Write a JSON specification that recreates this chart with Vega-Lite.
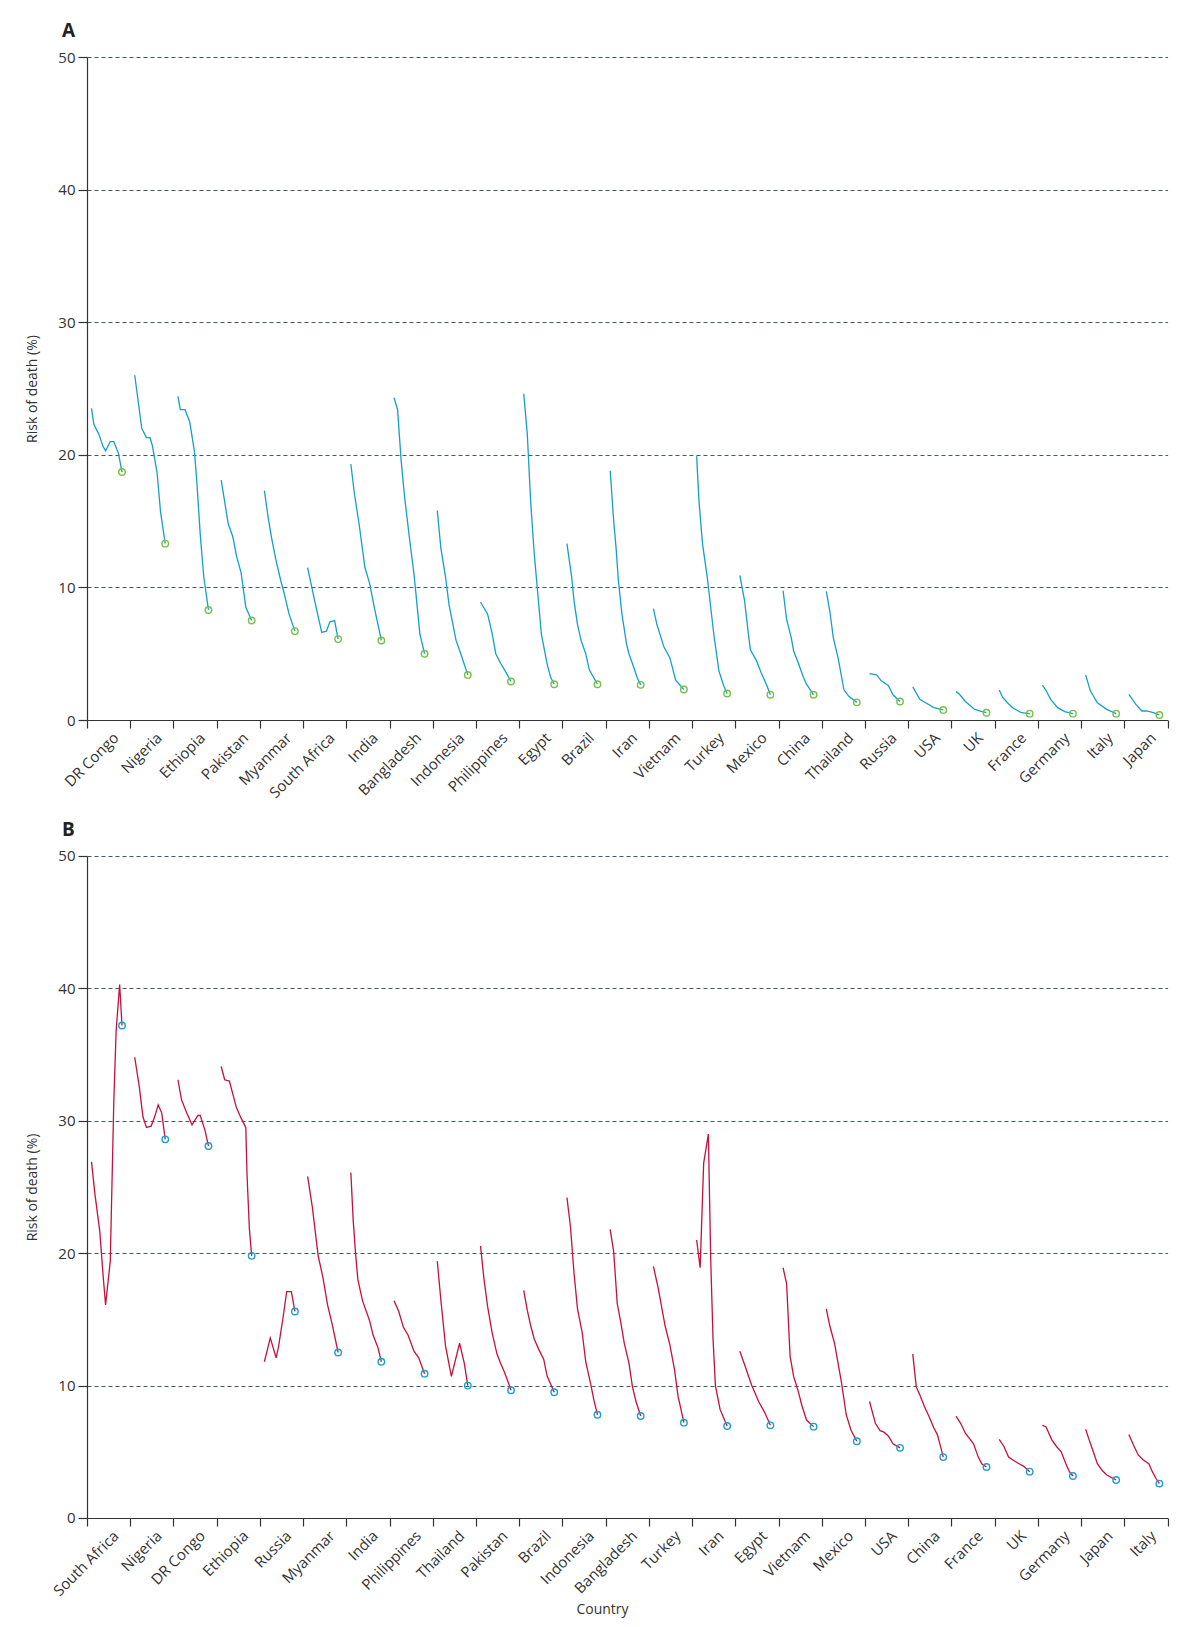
{
"$schema": "https://vega.github.io/schema/vega-lite/v6.json",
"padding": {"left": 25, "top": 22, "right": 10, "bottom": 4},
"background": "white",
"spacing": 20,
"config": {
  "font": "Open Sans",
  "view": {"stroke": null},
  "axis": {"domainColor": "#333", "tickColor": "#333", "labelColor": "#333", "titleColor": "#333", "titleFontWeight": "normal", "domainWidth": 1.2, "tickWidth": 1.2}
},
"datasets": {
"A": [
{"c":"DR Congo","year":1990,"v":23.5},{"c":"DR Congo","year":1992,"v":22.3},{"c":"DR Congo","year":1996,"v":21.6},{"c":"DR Congo","year":2000,"v":20.6},{"c":"DR Congo","year":2002,"v":20.3},{"c":"DR Congo","year":2006,"v":21.0},{"c":"DR Congo","year":2009,"v":21.0},{"c":"DR Congo","year":2013,"v":20.1},{"c":"DR Congo","year":2016,"v":18.7},
{"c":"Nigeria","year":1990,"v":26.0},{"c":"Nigeria","year":1996,"v":22.0},{"c":"Nigeria","year":2000,"v":21.3},{"c":"Nigeria","year":2003,"v":21.3},{"c":"Nigeria","year":2005,"v":20.7},{"c":"Nigeria","year":2009,"v":18.7},{"c":"Nigeria","year":2012,"v":15.7},{"c":"Nigeria","year":2016,"v":13.3},
{"c":"Ethiopia","year":1990,"v":24.4},{"c":"Ethiopia","year":1992,"v":23.4},{"c":"Ethiopia","year":1996,"v":23.4},{"c":"Ethiopia","year":2000,"v":22.5},{"c":"Ethiopia","year":2004,"v":20.3},{"c":"Ethiopia","year":2006,"v":18.1},{"c":"Ethiopia","year":2009,"v":14.0},{"c":"Ethiopia","year":2012,"v":10.8},{"c":"Ethiopia","year":2016,"v":8.3},
{"c":"Pakistan","year":1990,"v":18.1},{"c":"Pakistan","year":1996,"v":14.8},{"c":"Pakistan","year":2000,"v":13.8},{"c":"Pakistan","year":2003,"v":12.4},{"c":"Pakistan","year":2007,"v":11.1},{"c":"Pakistan","year":2011,"v":8.5},{"c":"Pakistan","year":2016,"v":7.5},
{"c":"Myanmar","year":1990,"v":17.3},{"c":"Myanmar","year":1993,"v":15.4},{"c":"Myanmar","year":1996,"v":13.8},{"c":"Myanmar","year":2000,"v":12.0},{"c":"Myanmar","year":2004,"v":10.5},{"c":"Myanmar","year":2007,"v":9.5},{"c":"Myanmar","year":2011,"v":8.0},{"c":"Myanmar","year":2016,"v":6.7},
{"c":"South Africa","year":1990,"v":11.5},{"c":"South Africa","year":1996,"v":9.0},{"c":"South Africa","year":2002,"v":6.6},{"c":"South Africa","year":2006,"v":6.7},{"c":"South Africa","year":2009,"v":7.4},{"c":"South Africa","year":2013,"v":7.5},{"c":"South Africa","year":2016,"v":6.1},
{"c":"India","year":1990,"v":19.3},{"c":"India","year":1993,"v":17.1},{"c":"India","year":1997,"v":14.8},{"c":"India","year":2002,"v":11.5},{"c":"India","year":2006,"v":10.3},{"c":"India","year":2010,"v":8.5},{"c":"India","year":2016,"v":6.0},
{"c":"Bangladesh","year":1990,"v":24.3},{"c":"Bangladesh","year":1993,"v":23.4},{"c":"Bangladesh","year":1996,"v":19.6},{"c":"Bangladesh","year":1999,"v":16.8},{"c":"Bangladesh","year":2003,"v":13.8},{"c":"Bangladesh","year":2007,"v":11.0},{"c":"Bangladesh","year":2012,"v":6.5},{"c":"Bangladesh","year":2016,"v":5.0},
{"c":"Indonesia","year":1990,"v":15.8},{"c":"Indonesia","year":1993,"v":13.0},{"c":"Indonesia","year":1997,"v":10.8},{"c":"Indonesia","year":2000,"v":8.7},{"c":"Indonesia","year":2006,"v":6.0},{"c":"Indonesia","year":2010,"v":5.0},{"c":"Indonesia","year":2016,"v":3.4},
{"c":"Philippines","year":1990,"v":8.9},{"c":"Philippines","year":1996,"v":8.0},{"c":"Philippines","year":2000,"v":6.5},{"c":"Philippines","year":2003,"v":5.0},{"c":"Philippines","year":2007,"v":4.3},{"c":"Philippines","year":2011,"v":3.7},{"c":"Philippines","year":2016,"v":2.9},
{"c":"Egypt","year":1990,"v":24.6},{"c":"Egypt","year":1993,"v":21.6},{"c":"Egypt","year":1996,"v":16.3},{"c":"Egypt","year":1999,"v":12.5},{"c":"Egypt","year":2002,"v":9.5},{"c":"Egypt","year":2005,"v":6.5},{"c":"Egypt","year":2010,"v":4.2},{"c":"Egypt","year":2013,"v":3.2},{"c":"Egypt","year":2016,"v":2.7},
{"c":"Brazil","year":1990,"v":13.3},{"c":"Brazil","year":1994,"v":10.8},{"c":"Brazil","year":1996,"v":9.0},{"c":"Brazil","year":1999,"v":7.2},{"c":"Brazil","year":2002,"v":6.0},{"c":"Brazil","year":2006,"v":5.0},{"c":"Brazil","year":2009,"v":3.8},{"c":"Brazil","year":2016,"v":2.7},
{"c":"Iran","year":1990,"v":18.8},{"c":"Iran","year":1993,"v":15.0},{"c":"Iran","year":1995,"v":13.0},{"c":"Iran","year":1997,"v":10.5},{"c":"Iran","year":2000,"v":8.0},{"c":"Iran","year":2004,"v":5.7},{"c":"Iran","year":2006,"v":5.0},{"c":"Iran","year":2010,"v":4.0},{"c":"Iran","year":2013,"v":3.2},{"c":"Iran","year":2016,"v":2.65},
{"c":"Vietnam","year":1990,"v":8.4},{"c":"Vietnam","year":1993,"v":7.2},{"c":"Vietnam","year":1999,"v":5.5},{"c":"Vietnam","year":2004,"v":4.7},{"c":"Vietnam","year":2009,"v":3.0},{"c":"Vietnam","year":2013,"v":2.6},{"c":"Vietnam","year":2016,"v":2.3},
{"c":"Turkey","year":1990,"v":19.9},{"c":"Turkey","year":1992,"v":16.5},{"c":"Turkey","year":1995,"v":13.3},{"c":"Turkey","year":1999,"v":10.8},{"c":"Turkey","year":2002,"v":8.5},{"c":"Turkey","year":2005,"v":6.2},{"c":"Turkey","year":2009,"v":3.7},{"c":"Turkey","year":2013,"v":2.6},{"c":"Turkey","year":2016,"v":2.0},
{"c":"Mexico","year":1990,"v":10.9},{"c":"Mexico","year":1994,"v":9.0},{"c":"Mexico","year":1997,"v":6.7},{"c":"Mexico","year":1999,"v":5.3},{"c":"Mexico","year":2004,"v":4.5},{"c":"Mexico","year":2008,"v":3.6},{"c":"Mexico","year":2013,"v":2.6},{"c":"Mexico","year":2016,"v":1.9},
{"c":"China","year":1990,"v":9.75},{"c":"China","year":1993,"v":7.6},{"c":"China","year":1997,"v":6.2},{"c":"China","year":1999,"v":5.2},{"c":"China","year":2003,"v":4.3},{"c":"China","year":2007,"v":3.3},{"c":"China","year":2010,"v":2.7},{"c":"China","year":2016,"v":1.9},
{"c":"Thailand","year":1990,"v":9.7},{"c":"Thailand","year":1993,"v":8.2},{"c":"Thailand","year":1996,"v":6.2},{"c":"Thailand","year":2000,"v":4.7},{"c":"Thailand","year":2005,"v":2.3},{"c":"Thailand","year":2009,"v":1.8},{"c":"Thailand","year":2016,"v":1.33},
{"c":"Russia","year":1990,"v":3.5},{"c":"Russia","year":1996,"v":3.4},{"c":"Russia","year":2000,"v":2.95},{"c":"Russia","year":2006,"v":2.6},{"c":"Russia","year":2010,"v":1.9},{"c":"Russia","year":2016,"v":1.4},
{"c":"USA","year":1990,"v":2.5},{"c":"USA","year":1996,"v":1.56},{"c":"USA","year":2001,"v":1.3},{"c":"USA","year":2008,"v":0.93},{"c":"USA","year":2016,"v":0.76},
{"c":"UK","year":1990,"v":2.14},{"c":"UK","year":1993,"v":1.94},{"c":"UK","year":1998,"v":1.4},{"c":"UK","year":2006,"v":0.8},{"c":"UK","year":2010,"v":0.68},{"c":"UK","year":2016,"v":0.55},
{"c":"France","year":1990,"v":2.27},{"c":"France","year":1993,"v":1.7},{"c":"France","year":1997,"v":1.3},{"c":"France","year":2002,"v":0.88},{"c":"France","year":2009,"v":0.55},{"c":"France","year":2016,"v":0.48},
{"c":"Germany","year":1990,"v":2.64},{"c":"Germany","year":1993,"v":2.24},{"c":"Germany","year":1997,"v":1.56},{"c":"Germany","year":2003,"v":0.93},{"c":"Germany","year":2009,"v":0.63},{"c":"Germany","year":2016,"v":0.48},
{"c":"Italy","year":1990,"v":3.4},{"c":"Italy","year":1994,"v":2.2},{"c":"Italy","year":2000,"v":1.3},{"c":"Italy","year":2008,"v":0.8},{"c":"Italy","year":2016,"v":0.48},
{"c":"Japan","year":1990,"v":1.94},{"c":"Japan","year":1996,"v":1.18},{"c":"Japan","year":2001,"v":0.68},{"c":"Japan","year":2005,"v":0.68},{"c":"Japan","year":2011,"v":0.55},{"c":"Japan","year":2016,"v":0.38}
],
"B": [
{"c":"South Africa","year":1990,"v":26.9},{"c":"South Africa","year":1993,"v":24.4},{"c":"South Africa","year":1997,"v":21.7},{"c":"South Africa","year":2000,"v":18.2},{"c":"South Africa","year":2002,"v":16.1},{"c":"South Africa","year":2006,"v":19.4},{"c":"South Africa","year":2009,"v":31.4},{"c":"South Africa","year":2011,"v":36.8},{"c":"South Africa","year":2014,"v":40.3},{"c":"South Africa","year":2016,"v":37.2},
{"c":"Nigeria","year":1990,"v":34.8},{"c":"Nigeria","year":1994,"v":32.5},{"c":"Nigeria","year":1997,"v":30.3},{"c":"Nigeria","year":2000,"v":29.5},{"c":"Nigeria","year":2004,"v":29.6},{"c":"Nigeria","year":2007,"v":30.3},{"c":"Nigeria","year":2010,"v":31.2},{"c":"Nigeria","year":2013,"v":30.6},{"c":"Nigeria","year":2016,"v":28.6},
{"c":"DR Congo","year":1990,"v":33.1},{"c":"DR Congo","year":1993,"v":31.6},{"c":"DR Congo","year":1997,"v":30.7},{"c":"DR Congo","year":2002,"v":29.7},{"c":"DR Congo","year":2007,"v":30.4},{"c":"DR Congo","year":2009,"v":30.4},{"c":"DR Congo","year":2013,"v":29.3},{"c":"DR Congo","year":2016,"v":28.1},
{"c":"Ethiopia","year":1990,"v":34.1},{"c":"Ethiopia","year":1993,"v":33.1},{"c":"Ethiopia","year":1997,"v":33.0},{"c":"Ethiopia","year":2000,"v":32.0},{"c":"Ethiopia","year":2003,"v":31.0},{"c":"Ethiopia","year":2007,"v":30.2},{"c":"Ethiopia","year":2011,"v":29.5},{"c":"Ethiopia","year":2012,"v":26.0},{"c":"Ethiopia","year":2014,"v":21.9},{"c":"Ethiopia","year":2016,"v":19.8},
{"c":"Russia","year":1990,"v":11.8},{"c":"Russia","year":1995,"v":13.6},{"c":"Russia","year":2000,"v":12.1},{"c":"Russia","year":2002,"v":12.9},{"c":"Russia","year":2006,"v":15.2},{"c":"Russia","year":2009,"v":17.1},{"c":"Russia","year":2013,"v":17.1},{"c":"Russia","year":2016,"v":15.6},
{"c":"Myanmar","year":1990,"v":25.8},{"c":"Myanmar","year":1994,"v":23.5},{"c":"Myanmar","year":1999,"v":19.8},{"c":"Myanmar","year":2003,"v":18.2},{"c":"Myanmar","year":2007,"v":16.1},{"c":"Myanmar","year":2011,"v":14.6},{"c":"Myanmar","year":2016,"v":12.5},
{"c":"India","year":1990,"v":26.1},{"c":"India","year":1992,"v":22.5},{"c":"India","year":1994,"v":20.0},{"c":"India","year":1996,"v":18.0},{"c":"India","year":2000,"v":16.4},{"c":"India","year":2006,"v":14.9},{"c":"India","year":2009,"v":13.8},{"c":"India","year":2013,"v":12.9},{"c":"India","year":2016,"v":11.8},
{"c":"Philippines","year":1990,"v":16.4},{"c":"Philippines","year":1994,"v":15.6},{"c":"Philippines","year":1998,"v":14.4},{"c":"Philippines","year":2002,"v":13.8},{"c":"Philippines","year":2007,"v":12.6},{"c":"Philippines","year":2011,"v":12.1},{"c":"Philippines","year":2016,"v":10.9},
{"c":"Thailand","year":1990,"v":19.4},{"c":"Thailand","year":1993,"v":16.5},{"c":"Thailand","year":1997,"v":13.0},{"c":"Thailand","year":2002,"v":10.7},{"c":"Thailand","year":2009,"v":13.2},{"c":"Thailand","year":2013,"v":11.7},{"c":"Thailand","year":2016,"v":10.0},
{"c":"Pakistan","year":1990,"v":20.55},{"c":"Pakistan","year":1993,"v":18.0},{"c":"Pakistan","year":1996,"v":16.0},{"c":"Pakistan","year":2000,"v":13.95},{"c":"Pakistan","year":2004,"v":12.4},{"c":"Pakistan","year":2007,"v":11.7},{"c":"Pakistan","year":2010,"v":11.1},{"c":"Pakistan","year":2013,"v":10.4},{"c":"Pakistan","year":2016,"v":9.65},
{"c":"Brazil","year":1990,"v":17.2},{"c":"Brazil","year":1993,"v":15.7},{"c":"Brazil","year":1996,"v":14.5},{"c":"Brazil","year":1999,"v":13.5},{"c":"Brazil","year":2003,"v":12.7},{"c":"Brazil","year":2007,"v":12.0},{"c":"Brazil","year":2010,"v":10.7},{"c":"Brazil","year":2016,"v":9.5},
{"c":"Indonesia","year":1990,"v":24.2},{"c":"Indonesia","year":1993,"v":22.0},{"c":"Indonesia","year":1996,"v":18.5},{"c":"Indonesia","year":1999,"v":15.8},{"c":"Indonesia","year":2003,"v":14.0},{"c":"Indonesia","year":2006,"v":11.8},{"c":"Indonesia","year":2010,"v":10.2},{"c":"Indonesia","year":2013,"v":8.9},{"c":"Indonesia","year":2016,"v":7.8},
{"c":"Bangladesh","year":1990,"v":21.8},{"c":"Bangladesh","year":1993,"v":20.1},{"c":"Bangladesh","year":1996,"v":16.2},{"c":"Bangladesh","year":1999,"v":14.8},{"c":"Bangladesh","year":2002,"v":13.2},{"c":"Bangladesh","year":2006,"v":11.7},{"c":"Bangladesh","year":2009,"v":9.9},{"c":"Bangladesh","year":2012,"v":8.8},{"c":"Bangladesh","year":2016,"v":7.7},
{"c":"Turkey","year":1990,"v":19.0},{"c":"Turkey","year":1994,"v":17.4},{"c":"Turkey","year":2000,"v":14.5},{"c":"Turkey","year":2004,"v":13.1},{"c":"Turkey","year":2008,"v":11.2},{"c":"Turkey","year":2011,"v":9.2},{"c":"Turkey","year":2016,"v":7.2},
{"c":"Iran","year":1990,"v":21.0},{"c":"Iran","year":1993,"v":18.9},{"c":"Iran","year":1996,"v":26.8},{"c":"Iran","year":2000,"v":29.0},{"c":"Iran","year":2002,"v":19.5},{"c":"Iran","year":2004,"v":13.5},{"c":"Iran","year":2006,"v":10.0},{"c":"Iran","year":2010,"v":8.2},{"c":"Iran","year":2016,"v":6.95},
{"c":"Egypt","year":1990,"v":12.6},{"c":"Egypt","year":1994,"v":11.6},{"c":"Egypt","year":2000,"v":10.05},{"c":"Egypt","year":2006,"v":8.8},{"c":"Egypt","year":2011,"v":8.0},{"c":"Egypt","year":2016,"v":7.0},
{"c":"Vietnam","year":1990,"v":18.9},{"c":"Vietnam","year":1993,"v":17.7},{"c":"Vietnam","year":1996,"v":12.2},{"c":"Vietnam","year":1999,"v":10.7},{"c":"Vietnam","year":2003,"v":9.55},{"c":"Vietnam","year":2006,"v":8.5},{"c":"Vietnam","year":2010,"v":7.4},{"c":"Vietnam","year":2016,"v":6.9},
{"c":"Mexico","year":1990,"v":15.8},{"c":"Mexico","year":1993,"v":14.5},{"c":"Mexico","year":1997,"v":13.2},{"c":"Mexico","year":2000,"v":11.7},{"c":"Mexico","year":2003,"v":10.2},{"c":"Mexico","year":2007,"v":7.8},{"c":"Mexico","year":2011,"v":6.65},{"c":"Mexico","year":2016,"v":5.8},
{"c":"USA","year":1990,"v":8.8},{"c":"USA","year":1995,"v":7.15},{"c":"USA","year":1999,"v":6.6},{"c":"USA","year":2002,"v":6.5},{"c":"USA","year":2006,"v":6.2},{"c":"USA","year":2010,"v":5.6},{"c":"USA","year":2016,"v":5.3},
{"c":"China","year":1990,"v":12.4},{"c":"China","year":1993,"v":9.9},{"c":"China","year":1996,"v":9.3},{"c":"China","year":2000,"v":8.4},{"c":"China","year":2004,"v":7.65},{"c":"China","year":2008,"v":6.8},{"c":"China","year":2011,"v":6.3},{"c":"China","year":2014,"v":5.3},{"c":"China","year":2016,"v":4.6},
{"c":"France","year":1990,"v":7.7},{"c":"France","year":1994,"v":7.15},{"c":"France","year":1998,"v":6.4},{"c":"France","year":2005,"v":5.6},{"c":"France","year":2009,"v":4.6},{"c":"France","year":2012,"v":4.1},{"c":"France","year":2016,"v":3.85},
{"c":"UK","year":1990,"v":5.94},{"c":"UK","year":1994,"v":5.4},{"c":"UK","year":1998,"v":4.6},{"c":"UK","year":2003,"v":4.3},{"c":"UK","year":2007,"v":4.1},{"c":"UK","year":2011,"v":3.9},{"c":"UK","year":2016,"v":3.5},
{"c":"Germany","year":1990,"v":7.0},{"c":"Germany","year":1993,"v":6.9},{"c":"Germany","year":1998,"v":5.9},{"c":"Germany","year":2002,"v":5.4},{"c":"Germany","year":2006,"v":5.0},{"c":"Germany","year":2010,"v":4.1},{"c":"Germany","year":2013,"v":3.5},{"c":"Germany","year":2016,"v":3.17},
{"c":"Japan","year":1990,"v":6.7},{"c":"Japan","year":1993,"v":5.9},{"c":"Japan","year":1996,"v":5.14},{"c":"Japan","year":2000,"v":4.1},{"c":"Japan","year":2004,"v":3.6},{"c":"Japan","year":2008,"v":3.25},{"c":"Japan","year":2016,"v":2.87},
{"c":"Italy","year":1990,"v":6.3},{"c":"Italy","year":1994,"v":5.5},{"c":"Italy","year":1998,"v":4.76},{"c":"Italy","year":2002,"v":4.4},{"c":"Italy","year":2007,"v":4.1},{"c":"Italy","year":2010,"v":3.5},{"c":"Italy","year":2013,"v":3.0},{"c":"Italy","year":2016,"v":2.6}
]
},
"vconcat": [
{
  "width": 1080.6, "height": 663,
  "title": {"text": "A", "anchor": "start", "frame": "group", "dx": -25, "offset": 9, "fontSize": 19, "fontWeight": "bold", "color": "#222"},
  "data": {"name": "A"},
  "encoding": {
    "x": {"field": "c", "type": "nominal", "title": null,
      "scale": {"domain": ["DR Congo","Nigeria","Ethiopia","Pakistan","Myanmar","South Africa","India","Bangladesh","Indonesia","Philippines","Egypt","Brazil","Iran","Vietnam","Turkey","Mexico","China","Thailand","Russia","USA","UK","France","Germany","Italy","Japan"], "paddingInner": 0, "paddingOuter": 0},
      "axis": {"tickBand": "extent", "labelAngle": -45, "labelAlign": "right", "labelBaseline": "top", "labelFontSize": 15, "labelPadding": 2, "labelOffset": 2, "tickSize": 8, "grid": false, "labelOverlap": false, "labelBound": false}},
    "xOffset": {"field": "year", "type": "quantitative", "scale": {"domain": [1990, 2016], "range": [4.5, 35]}},
    "y": {"field": "v", "type": "quantitative", "title": "Risk of death (%)", "scale": {"domain": [0, 50]},
      "axis": {"values": [0,10,20,30,40,50], "grid": true, "gridDash": [4,3], "gridColor": "#3d5966", "gridWidth": 1, "gridOpacity": {"condition": {"test": "datum.value === 0", "value": 0}, "value": 1}, "tickSize": 9, "labelPadding": 3, "labelFontSize": 15, "titleFontSize": 14, "titlePadding": 18}}
  },
  "layer": [
    {"mark": {"type": "line", "color": "#169fc7", "strokeWidth": 1.3}, "encoding": {"detail": {"field": "c"}, "order": {"field": "year"}}},
    {"transform": [{"filter": "datum.year == 2016"}], "mark": {"type": "point", "filled": false, "color": "#78c043", "size": 42, "strokeWidth": 1.4, "opacity": 1}}
  ]
},
{
  "width": 1080.6, "height": 662,
  "title": {"text": "B", "anchor": "start", "frame": "group", "dx": -25, "offset": 9, "fontSize": 19, "fontWeight": "bold", "color": "#222"},
  "data": {"name": "B"},
  "encoding": {
    "x": {"field": "c", "type": "nominal", "title": "Country",
      "scale": {"domain": ["South Africa","Nigeria","DR Congo","Ethiopia","Russia","Myanmar","India","Philippines","Thailand","Pakistan","Brazil","Indonesia","Bangladesh","Turkey","Iran","Egypt","Vietnam","Mexico","USA","China","France","UK","Germany","Japan","Italy"], "paddingInner": 0, "paddingOuter": 0},
      "axis": {"tickBand": "extent", "labelAngle": -45, "labelAlign": "right", "labelBaseline": "top", "labelFontSize": 15, "labelPadding": 2, "labelOffset": 2, "tickSize": 8, "grid": false, "labelOverlap": false, "labelBound": false, "titleFontSize": 14, "titleX": 515, "titleY": 96, "titleBaseline": "alphabetic"}},
    "xOffset": {"field": "year", "type": "quantitative", "scale": {"domain": [1990, 2016], "range": [4.5, 35]}},
    "y": {"field": "v", "type": "quantitative", "title": "Risk of death (%)", "scale": {"domain": [0, 50]},
      "axis": {"values": [0,10,20,30,40,50], "grid": true, "gridDash": [4,3], "gridColor": "#3d5966", "gridWidth": 1, "gridOpacity": {"condition": {"test": "datum.value === 0", "value": 0}, "value": 1}, "tickSize": 9, "labelPadding": 3, "labelFontSize": 15, "titleFontSize": 14, "titlePadding": 18}}
  },
  "layer": [
    {"mark": {"type": "line", "color": "#c2123e", "strokeWidth": 1.3}, "encoding": {"detail": {"field": "c"}, "order": {"field": "year"}}},
    {"transform": [{"filter": "datum.year == 2016"}], "mark": {"type": "point", "filled": false, "color": "#1aa0cc", "size": 42, "strokeWidth": 1.4, "opacity": 1}}
  ]
}
]
}
